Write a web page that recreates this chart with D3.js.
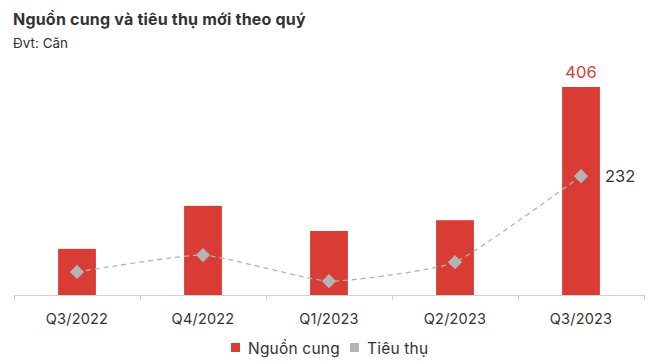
<!DOCTYPE html>
<html>
<head>
<meta charset="utf-8">
<script src="https://cdn.jsdelivr.net/npm/d3@7"></script>
<style>
  body { margin: 0; background: #fff; }
  text { font-family: Inter, "Noto Sans", sans-serif; }
</style>
</head>
<body>
<div id="chart"></div>
<script>
const quarters = ['Q3/2022', 'Q4/2022', 'Q1/2023', 'Q2/2023', 'Q3/2023'];
const supply = [90, 174, 125, 146, 406];
const sales = [45, 78, 27, 64, 232];
const seriesNames = ['Nguồn cung', 'Tiêu thụ'];

const width = 648, height = 364;
const margin = { left: 14, right: 4, top: 87, bottom: 69 };
const red = '#d93b35', grey = '#b4b4b4';

const svg = d3.select('#chart').append('svg')
  .attr('width', width).attr('height', height);

svg.append('text').attr('x', 13).attr('y', 25)
  .attr('font-size', 16).attr('font-weight', 700).attr('fill', '#333')
  .attr('letter-spacing', 0.2)
  .text('Nguồn cung và tiêu thụ mới theo quý');
svg.append('text').attr('x', 13).attr('y', 48)
  .attr('font-size', 13.5).attr('fill', '#333')
  .text('Đvt: Căn');

const x = d3.scaleBand().domain(quarters)
  .range([margin.left, width - margin.right]).paddingInner(0.7).paddingOuter(0.35);
const y = d3.scaleLinear().domain([0, 406])
  .range([height - margin.bottom, margin.top]);
const baseY = y(0);

// bars
svg.append('g').selectAll('rect').data(quarters).join('rect')
  .attr('x', d => x(d)).attr('width', x.bandwidth())
  .attr('y', (d, i) => y(supply[i]))
  .attr('height', (d, i) => baseY - y(supply[i]))
  .attr('fill', red);

// axis
const step = x.step();
const axisG = svg.append('g');
axisG.append('line').attr('x1', margin.left).attr('x2', width - margin.right)
  .attr('y1', baseY + 0.5).attr('y2', baseY + 0.5).attr('stroke', '#d0d0d0');
const bounds = quarters.map(q => x(q) + x.bandwidth() / 2 - step / 2)
  .concat([x(quarters[quarters.length - 1]) + x.bandwidth() / 2 + step / 2]);
axisG.selectAll('.tk').data(bounds).join('line')
  .attr('x1', d => Math.round(d) + 0.5).attr('x2', d => Math.round(d) + 0.5)
  .attr('y1', baseY).attr('y2', baseY + 5).attr('stroke', '#d0d0d0');
axisG.selectAll('.lbl').data(quarters).join('text')
  .attr('x', d => x(d) + x.bandwidth() / 2).attr('y', baseY + 29)
  .attr('text-anchor', 'middle').attr('font-size', 14.5).attr('fill', '#333')
  .attr('letter-spacing', 0.2)
  .text(d => d);

// line
const cx = (d, i) => x(quarters[i]) + x.bandwidth() / 2;
const line = d3.line().x(cx).y(d => y(d)).curve(d3.curveCardinal.tension(0.55));
svg.append('path').datum(sales).attr('d', line)
  .attr('fill', 'none').attr('stroke', grey).attr('stroke-width', 1.3)
  .attr('stroke-dasharray', '5,4');
svg.append('g').selectAll('path').data(sales).join('path')
  .attr('d', d3.symbol(d3.symbolDiamond2, 130))
  .attr('transform', (d, i) => `translate(${cx(d, i)},${y(d)})`)
  .attr('fill', grey);

// value labels
const last = quarters.length - 1;
svg.append('text').attr('x', cx(0, last)).attr('y', y(supply[last]) - 9)
  .attr('text-anchor', 'middle').attr('font-size', 16.5).attr('fill', red)
  .text(supply[last]);
svg.append('text').attr('x', cx(0, last) + 24).attr('y', y(sales[last]) + 6)
  .attr('font-size', 16.5).attr('fill', '#333')
  .text(sales[last]);

// legend
const legend = svg.append('g').attr('transform', `translate(231, 349)`);
const items = [{ name: seriesNames[0], color: red, x: 0 }, { name: seriesNames[1], color: grey, x: 119 }];
items.forEach(it => {
  legend.append('rect').attr('x', it.x).attr('y', -6).attr('width', 9).attr('height', 9).attr('fill', it.color);
  legend.append('text').attr('x', it.x + 17).attr('y', 5)
    .attr('font-size', 15.5).attr('fill', '#333').attr('letter-spacing', 0.2)
    .text(it.name);
});
</script>
</body>
</html>
